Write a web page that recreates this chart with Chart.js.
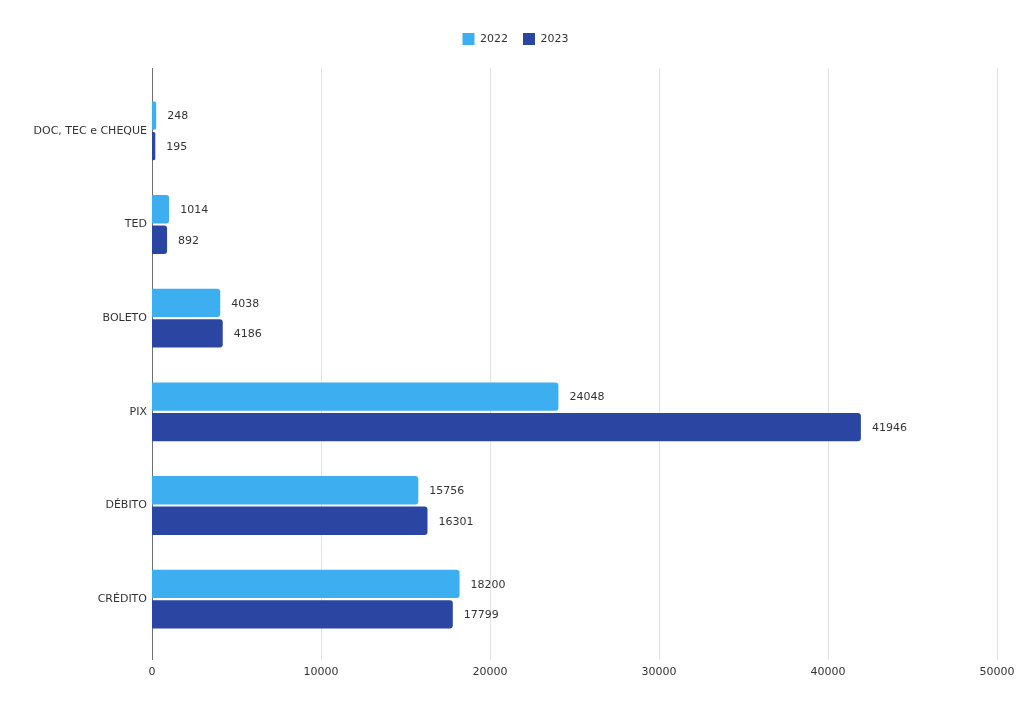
<!DOCTYPE html>
<html>
<head>
<meta charset="utf-8">
<script src="https://cdn.jsdelivr.net/npm/chart.js@4/dist/chart.umd.min.js"></script>
<style>
html,body{margin:0;padding:0;background:#fff;}
#wrap{width:1031px;height:710px;}
</style>
</head>
<body>
<div id="wrap"><canvas id="c" width="1031" height="710"></canvas></div>
<script>
const categories = ['DOC, TEC e CHEQUE', 'TED', 'BOLETO', 'PIX', 'DÉBITO', 'CRÉDITO'];
const seriesNames = ['2022', '2023'];
const values2022 = [248, 1014, 4038, 24048, 15756, 18200];
const values2023 = [195, 892, 4186, 41946, 16301, 17799];
const xTicks = [0, 10000, 20000, 30000, 40000, 50000];

const FONT = '"DejaVu Sans", Verdana, sans-serif';
const TEXT = '#333333';

const legendMargin = {
  id: 'legendMargin',
  beforeInit(chart) {
    const orig = chart.legend.fit;
    chart.legend.fit = function () { orig.bind(chart.legend)(); this.height += 29; };
  }
};

const gridLines = {
  id: 'gridLines',
  beforeDatasetsDraw(chart) {
    const {ctx, chartArea, scales} = chart;
    const top = chartArea.top - 16, bottom = chartArea.bottom + 14;
    ctx.save();
    ctx.lineWidth = 1;
    scales.x.ticks.forEach(t => {
      const x = Math.round(scales.x.getPixelForValue(t.value)) + 0.5;
      ctx.strokeStyle = t.value === 0 ? '#6e6e6e' : '#e2e2e2';
      ctx.beginPath(); ctx.moveTo(x, top); ctx.lineTo(x, bottom); ctx.stroke();
    });
    ctx.restore();
  }
};

const valueLabels = {
  id: 'valueLabels',
  afterDatasetsDraw(chart) {
    const {ctx} = chart;
    ctx.save();
    ctx.font = '11px ' + FONT;
    ctx.fillStyle = TEXT;
    ctx.textAlign = 'left';
    ctx.textBaseline = 'middle';
    chart.data.datasets.forEach((ds, i) => {
      chart.getDatasetMeta(i).data.forEach((bar, j) => {
        ctx.fillText(String(ds.data[j]), bar.x + 11, bar.y + 1);
      });
    });
    ctx.restore();
  }
};

new Chart(document.getElementById('c'), {
  type: 'bar',
  data: {
    labels: categories,
    datasets: [
      { label: seriesNames[0], data: values2022, backgroundColor: '#3daef0', borderColor: '#3daef0' },
      { label: seriesNames[1], data: values2023, backgroundColor: '#2b45a3', borderColor: '#2b45a3' }
    ]
  },
  options: {
    responsive: false,
    animation: false,
    indexAxis: 'y',
    layout: { padding: { top: 18, right: 0, left: 0, bottom: 0 } },
    datasets: {
      bar: { categoryPercentage: 0.65, barPercentage: 0.93, borderRadius: 3, borderSkipped: 'start', borderWidth: 0 }
    },
    plugins: {
      legend: {
        position: 'top',
        labels: { boxWidth: 12, boxHeight: 12, padding: 15, color: TEXT, font: { family: FONT, size: 11 } }
      },
      tooltip: { enabled: false }
    },
    scales: {
      x: {
        type: 'linear', min: 0, max: 50000,
        afterBuildTicks(scale) { scale.ticks = xTicks.map(v => ({ value: v })); },
        afterFit(scale) { scale.height = 64; scale.paddingRight = 34; scale.paddingLeft = 0; },
        grid: { display: false, drawTicks: false },
        border: { display: false },
        ticks: { padding: 20, color: TEXT, font: { family: FONT, size: 11 }, maxRotation: 0,
                 callback: v => String(v) }
      },
      y: {
        afterFit(scale) { scale.width = 152; },
        grid: { display: false, drawTicks: false },
        border: { display: false },
        ticks: { padding: 5, color: TEXT, font: { family: FONT, size: 11 } }
      }
    }
  },
  plugins: [legendMargin, gridLines, valueLabels]
});
</script>
</body>
</html>
